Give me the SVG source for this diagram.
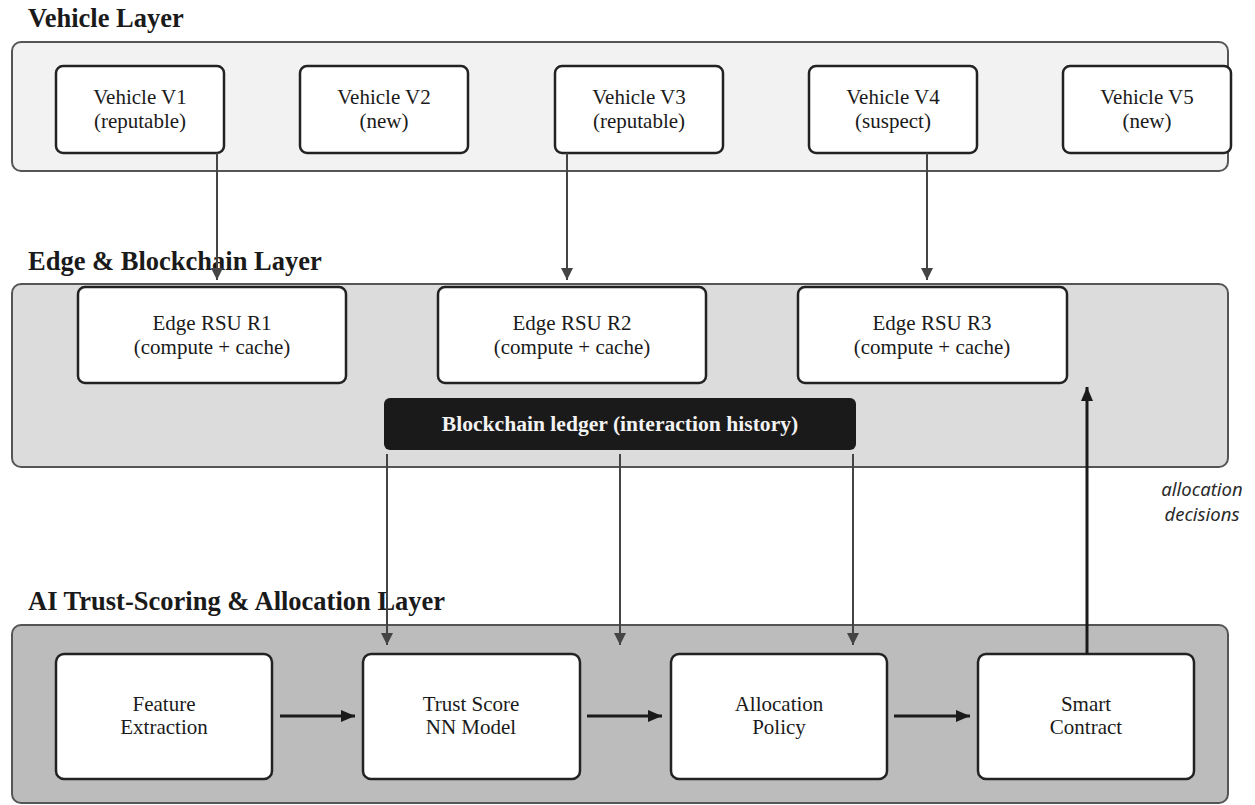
<svg xmlns="http://www.w3.org/2000/svg" width="1255" height="805" viewBox="0 0 1255 805">
<defs>
<style>
.title{font-family:"Liberation Serif",serif;font-weight:bold;font-size:26.5px;fill:#1a1a1a}
.layer{stroke:#555;stroke-width:2}
.box{fill:#fff;stroke:#222;stroke-width:2.5}
.t{font-family:"Liberation Serif",serif;font-size:21px;fill:#1a1a1a;text-anchor:middle}
.gl{stroke:#444;stroke-width:2;fill:none}
.bl{stroke:#1a1a1a;stroke-width:3;fill:none}
.lbl{font-family:"Noto Sans",sans-serif;font-style:italic;font-size:18.5px;fill:#2a2a2a;text-anchor:middle}
</style>
<marker id="ag" viewBox="0 0 12 12" refX="12" refY="6" markerWidth="12" markerHeight="12" markerUnits="userSpaceOnUse" orient="auto"><path d="M0,0L12,6L0,12z" fill="#444"/></marker>
<marker id="ab" viewBox="0 0 14 12" refX="14" refY="6" markerWidth="14" markerHeight="12" markerUnits="userSpaceOnUse" orient="auto"><path d="M0,0L14,6L0,12z" fill="#1a1a1a"/></marker>
</defs>
<rect width="1255" height="805" fill="#fff"/>

<g id="layer-vehicle">
<text class="title" x="28" y="27">Vehicle Layer</text>
<rect class="layer" x="12" y="42" width="1216" height="129" rx="9" fill="#f2f2f2"/>
</g>
<g id="layer-edge">
<text class="title" x="28" y="270">Edge &amp; Blockchain Layer</text>
<rect class="layer" x="12" y="284" width="1216" height="183" rx="9" fill="#dcdcdc"/>
</g>
<g id="layer-ai">
<text class="title" x="28" y="610">AI Trust-Scoring &amp; Allocation Layer</text>
<rect class="layer" x="12" y="625" width="1216" height="178" rx="9" fill="#bcbcbc"/>
</g>

<g id="v1"><rect class="box" x="56" y="66" width="168" height="87" rx="7"/><text class="t" x="140" y="104">Vehicle V1</text><text class="t" x="140" y="128">(reputable)</text></g>
<g id="v2"><rect class="box" x="300" y="66" width="168" height="87" rx="7"/><text class="t" x="384" y="104">Vehicle V2</text><text class="t" x="384" y="128">(new)</text></g>
<g id="v3"><rect class="box" x="555" y="66" width="168" height="87" rx="7"/><text class="t" x="639" y="104">Vehicle V3</text><text class="t" x="639" y="128">(reputable)</text></g>
<g id="v4"><rect class="box" x="809" y="66" width="168" height="87" rx="7"/><text class="t" x="893" y="104">Vehicle V4</text><text class="t" x="893" y="128">(suspect)</text></g>
<g id="v5"><rect class="box" x="1063" y="66" width="168" height="87" rx="7"/><text class="t" x="1147" y="104">Vehicle V5</text><text class="t" x="1147" y="128">(new)</text></g>

<g id="r1"><rect class="box" x="78" y="287" width="268" height="96" rx="7"/><text class="t" x="212" y="330">Edge RSU R1</text><text class="t" x="212" y="354">(compute + cache)</text></g>
<g id="r2"><rect class="box" x="438" y="287" width="268" height="96" rx="7"/><text class="t" x="572" y="330">Edge RSU R2</text><text class="t" x="572" y="354">(compute + cache)</text></g>
<g id="r3"><rect class="box" x="798" y="287" width="269" height="96" rx="7"/><text class="t" x="932" y="330">Edge RSU R3</text><text class="t" x="932" y="354">(compute + cache)</text></g>

<g id="ledger"><rect x="384" y="398" width="472" height="52" rx="6" fill="#1a1a1a"/><text x="620" y="431" font-family="Liberation Serif, serif" font-weight="bold" font-size="21.6" fill="#f2f2f2" text-anchor="middle">Blockchain ledger (interaction history)</text></g>

<g id="feature"><rect class="box" x="56" y="654" width="216" height="125" rx="8"/><text class="t" x="164" y="711">Feature</text><text class="t" x="164" y="734">Extraction</text></g>
<g id="trust"><rect class="box" x="363" y="654" width="217" height="125" rx="8"/><text class="t" x="471" y="711">Trust Score</text><text class="t" x="471" y="734">NN Model</text></g>
<g id="policy"><rect class="box" x="671" y="654" width="216" height="125" rx="8"/><text class="t" x="779" y="711">Allocation</text><text class="t" x="779" y="734">Policy</text></g>
<g id="contract"><rect class="box" x="978" y="654" width="216" height="125" rx="8"/><text class="t" x="1086" y="711">Smart</text><text class="t" x="1086" y="734">Contract</text></g>

<g id="connectors">
<line class="gl" x1="217" y1="153" x2="217" y2="280" marker-end="url(#ag)"/>
<line class="gl" x1="567" y1="153" x2="567" y2="280" marker-end="url(#ag)"/>
<line class="gl" x1="927" y1="153" x2="927" y2="280" marker-end="url(#ag)"/>
<line class="gl" x1="387" y1="454" x2="387" y2="645" marker-end="url(#ag)"/>
<line class="gl" x1="620" y1="454" x2="620" y2="645" marker-end="url(#ag)"/>
<line class="gl" x1="853" y1="454" x2="853" y2="645" marker-end="url(#ag)"/>
<line class="bl" x1="280" y1="716" x2="355" y2="716" marker-end="url(#ab)"/>
<line class="bl" x1="587" y1="716" x2="662" y2="716" marker-end="url(#ab)"/>
<line class="bl" x1="894" y1="716" x2="970" y2="716" marker-end="url(#ab)"/>
<line class="bl" x1="1087" y1="654" x2="1087" y2="387" marker-end="url(#ab)"/>
<text class="lbl" x="1202" y="496">allocation</text>
<text class="lbl" x="1202" y="521">decisions</text>
</g>
</svg>
